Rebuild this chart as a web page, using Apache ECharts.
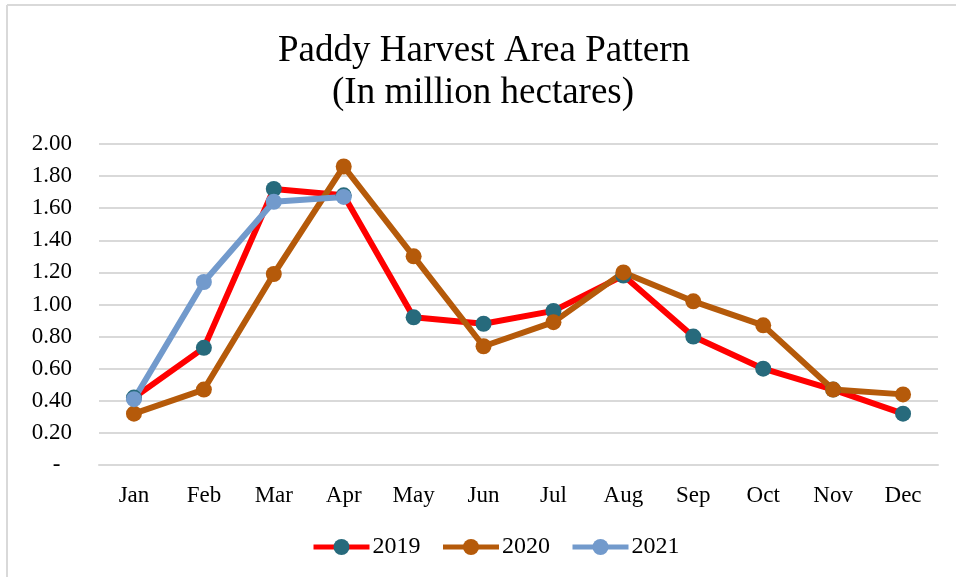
<!DOCTYPE html>
<html>
<head>
<meta charset="utf-8">
<script src="https://cdn.jsdelivr.net/npm/echarts@6/dist/echarts.min.js"></script>
<style>
  html, body { margin: 0; padding: 0; background: #fff; }
  #main { width: 956px; height: 577px; }
</style>
</head>
<body>
<div id="main"></div>
<script>
const months = ['Jan', 'Feb', 'Mar', 'Apr', 'May', 'Jun', 'Jul', 'Aug', 'Sep', 'Oct', 'Nov', 'Dec'];
const area2019 = [0.42, 0.73, 1.72, 1.68, 0.92, 0.88, 0.96, 1.18, 0.80, 0.60, 0.47, 0.32];
const area2020 = [0.32, 0.47, 1.19, 1.86, 1.30, 0.74, 0.89, 1.20, 1.02, 0.87, 0.47, 0.44];
const area2021 = [0.41, 1.14, 1.64, 1.67];

const serif = '"Liberation Serif", "DejaVu Serif", serif';

const myChart = echarts.init(document.getElementById('main'));

// one line series, Excel-ish style
const makeSeries = (name, data, lineColor, markerColor) => ({
  name: name,
  type: 'line',
  data: data,
  symbol: 'circle',
  symbolSize: 16,
  lineStyle: { color: lineColor, width: 6 },
  itemStyle: { color: markerColor },
  emphasis: { disabled: true },
  z: 2
});

const option = {
  animation: false,
  graphic: [
    { type: 'line', shape: { x1: 7, y1: 5, x2: 956, y2: 5 }, style: { stroke: '#d9d9d9', lineWidth: 2 } },
    { type: 'line', shape: { x1: 7, y1: 5, x2: 7, y2: 577 }, style: { stroke: '#d9d9d9', lineWidth: 2 } },
    {
      type: 'text', left: 278, top: 33,
      style: { text: 'Paddy Harvest Area Pattern', font: '37px ' + serif, fill: '#000' }
    },
    {
      type: 'text', left: 332, top: 75,
      style: { text: '(In million hectares)', font: '37px ' + serif, fill: '#000' }
    }
  ],
  grid: {
    left: 99,
    right: 18,
    top: 144,
    bottom: 112
  },
  legend: {
    bottom: 13,
    left: 306,
    itemWidth: 56,
    itemHeight: 20,
    itemGap: 20,
    lineStyle: { width: 5 },
    textStyle: { fontFamily: serif, fontSize: 24, color: '#000', padding: [0, 0, 0, -2] },
    data: ['2019', '2020', '2021']
  },
  xAxis: {
    type: 'category',
    data: months,
    boundaryGap: true,
    axisLine: { lineStyle: { color: '#d9d9d9', width: 2 } },
    axisTick: { show: false },
    axisLabel: { fontFamily: serif, fontSize: 23, color: '#000', margin: 19 }
  },
  yAxis: {
    type: 'value',
    min: 0,
    max: 2,
    interval: 0.2,
    axisLine: { show: false },
    axisTick: { show: false },
    splitLine: { lineStyle: { color: '#d9d9d9', width: 2 } },
    axisLabel: {
      fontFamily: serif, fontSize: 23, color: '#000', margin: 27,
      formatter: (v) => (v === 0 ? '-  ' : v.toFixed(2))
    }
  },
  series: [
    makeSeries('2019', area2019, '#ff0000', '#276a7c'),
    makeSeries('2020', area2020, '#b55a0a', '#b55a0a'),
    makeSeries('2021', area2021, '#729acc', '#729acc')
  ]
};

myChart.setOption(option);
</script>
</body>
</html>
